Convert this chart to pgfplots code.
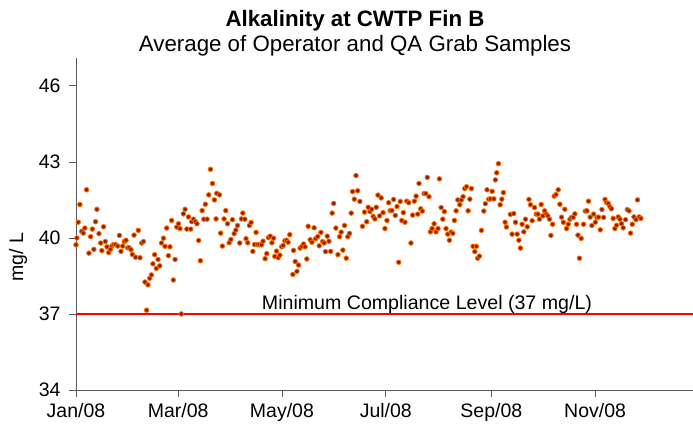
\documentclass[border=0pt]{standalone}
\usepackage{fontspec}
\setmainfont{Liberation Sans}
\usepackage{pgfplots}
\pgfplotsset{compat=1.18}

\definecolor{dotfill}{RGB}{150,30,0}
\definecolor{dotedge}{RGB}{255,110,0}
\definecolor{axisgray}{RGB}{90,90,90}
\definecolor{limitred}{RGB}{255,0,0}

% day of year (0 = 1 Jan 2008), alkalinity in mg/L
\pgfplotstableread{
day val
0 39.73
0.5 40.00
1.3 40.62
2.3 41.32
3.3 40.26
4.3 40.19
5.2 40.39
6.2 41.90
7.6 39.40
8.6 40.05
9.6 40.35
10.5 39.55
11.5 40.64
12.3 41.13
13.5 40.17
14.5 39.80
15.2 39.50
16.2 40.44
17.2 39.86
18.2 39.65
19.2 39.42
20.2 39.55
21.1 39.69
22.1 39.74
23.1 39.74
24.5 39.68
25.5 40.10
26.4 39.47
27.4 39.68
28.4 39.86
29.4 39.91
30.4 39.61
31.3 39.61
32.3 39.54
33.1 39.35
34.1 40.11
35.0 39.24
36.6 40.30
37.6 39.22
38.6 39.80
39.6 39.86
40.5 38.26
41.5 37.15
42.3 38.15
43.3 38.41
44.3 38.54
45.2 38.98
46.2 39.34
47.2 38.80
48.2 39.15
49.2 38.90
50.2 39.80
51.4 39.99
52.3 39.67
53.3 40.39
54.3 39.30
55.2 39.65
56.2 40.69
57.2 38.34
58.2 39.15
59.2 40.43
60.2 40.56
61.1 40.37
61.9 37.00
63.1 40.95
64.1 41.13
65.1 40.35
66.1 40.83
67.4 40.35
68.0 40.64
69.0 40.74
70.2 40.64
71.1 40.56
72.1 39.90
73.1 39.10
74.1 41.08
75.1 40.74
76.0 41.33
77.0 40.74
78.0 41.70
79.0 42.71
80.2 42.15
81.3 41.50
82.3 40.75
82.7 41.76
84.3 41.70
85.0 40.19
86.0 39.68
87.0 40.75
88.0 41.08
89.0 40.56
90.0 39.81
91.0 39.94
91.9 40.72
92.9 40.17
93.9 40.31
94.9 40.49
96.2 39.80
97.2 40.75
98.0 40.98
99.2 40.74
99.9 39.97
100.9 39.81
101.9 40.49
102.9 40.61
103.9 39.47
104.9 39.74
105.8 40.22
106.8 39.74
107.8 39.74
109.0 39.73
109.9 39.87
111.1 39.18
112.1 39.38
113.1 40.01
114.1 40.07
115.1 39.81
116.1 39.99
116.8 39.27
117.8 39.48
118.8 39.22
119.8 39.32
120.8 39.65
121.7 39.70
122.7 39.89
123.7 39.91
124.6 39.83
125.6 40.13
127.4 38.56
127.8 39.51
128.8 39.07
129.8 38.68
130.8 38.93
131.7 39.60
132.7 39.67
133.7 39.76
134.6 39.65
135.6 39.17
136.4 40.46
137.6 39.93
138.6 39.83
139.9 40.40
140.8 39.97
142.0 40.05
142.9 39.69
143.9 40.22
144.9 39.86
145.8 39.80
146.6 39.46
147.6 40.07
148.6 39.87
149.6 39.47
150.5 40.98
151.4 41.36
152.7 40.39
153.9 39.34
154.9 40.05
155.8 40.23
156.8 39.52
157.8 40.49
158.8 39.20
159.7 40.05
160.7 40.18
161.7 40.98
162.5 41.83
163.5 41.53
164.5 42.46
165.5 41.86
166.8 41.44
168.3 40.46
169.5 41.02
170.8 40.64
171.7 41.21
172.7 41.04
173.7 41.13
174.6 40.85
175.6 40.75
176.4 41.21
177.4 41.69
178.4 40.87
179.3 41.58
180.4 41.00
181.5 40.37
182.7 40.69
183.7 41.39
184.6 41.08
185.6 41.08
186.6 41.52
187.6 40.89
188.6 41.24
189.6 39.04
190.5 41.44
191.4 40.69
192.3 41.00
193.3 40.62
194.3 41.45
195.5 41.39
196.8 39.80
197.8 40.90
198.8 41.45
199.8 41.65
200.8 40.94
201.5 42.15
202.5 41.15
203.5 41.06
204.5 41.75
205.5 41.75
206.4 42.39
207.4 41.63
208.2 40.24
209.2 40.37
210.4 40.56
211.5 40.24
212.7 40.37
213.5 42.33
214.5 41.20
215.5 40.74
216.4 41.04
217.4 40.37
218.4 40.15
219.4 39.91
220.4 40.23
221.4 40.18
222.3 40.69
223.3 41.07
224.3 41.50
225.5 41.31
226.4 41.50
227.4 41.63
228.4 41.95
229.4 42.02
230.4 41.07
231.4 41.53
232.3 41.95
233.3 39.67
234.3 39.46
235.2 39.67
236.0 39.20
237.0 39.28
238.2 40.30
239.6 41.06
240.5 41.35
241.5 41.90
242.5 41.53
243.5 41.54
244.5 41.84
245.5 41.54
246.4 42.29
247.2 42.57
248.2 42.93
249.2 41.31
250.2 41.53
251.1 41.79
252.1 40.62
252.9 40.43
255.2 40.93
256.2 40.15
257.2 40.96
258.2 40.62
259.2 40.15
260.2 39.91
261.1 39.60
262.1 40.54
263.1 40.24
264.1 40.74
265.1 40.44
266.1 41.52
267.0 41.31
268.0 40.68
269.4 41.20
270.4 40.94
271.4 40.94
272.3 40.74
273.3 41.32
274.3 40.87
275.3 41.07
276.3 40.94
277.2 40.87
278.2 40.74
279.0 40.10
280.0 40.54
281.0 41.65
282.0 41.71
283.3 41.90
284.3 41.33
285.3 40.82
286.3 40.62
287.2 41.13
288.2 40.37
289.2 40.54
290.2 40.74
291.1 40.81
292.1 40.81
293.1 40.95
294.1 40.54
294.9 40.11
295.8 39.20
296.8 39.98
298.2 40.54
299.2 41.06
300.2 41.07
301.1 41.45
302.1 40.82
303.1 40.49
304.1 40.94
305.1 40.62
306.1 40.81
307.0 40.82
308.0 40.32
309.0 41.12
310.0 40.81
310.8 41.52
311.7 41.40
312.7 41.36
313.7 41.23
314.6 41.15
315.6 40.77
316.6 40.37
317.6 40.50
318.6 40.83
319.6 40.74
320.5 40.56
321.5 40.40
322.9 40.72
323.9 41.12
324.9 41.07
325.8 40.19
326.8 40.54
327.8 40.83
329.0 40.72
329.9 41.50
330.9 40.83
331.9 40.77
}\alkdata

\begin{document}
\begin{tikzpicture}
\begin{axis}[
    scale only axis,
    width=617pt, height=332pt,
    at={(0,0)}, anchor=south west,
    xmin=0, xmax=362.5,
    ymin=34, ymax=47.1,
    axis x line*=bottom,
    axis y line*=left,
    axis line style={draw=axisgray, line width=0.8pt},
    xtick={0,60,121,182,244,305},
    xticklabels={Jan/08,Mar/08,May/08,Jul/08,Sep/08,Nov/08},
    ytick={34,37,40,43,46},
    tick align=outside,
    major tick length=7pt,
    tick style={draw=axisgray, line width=0.8pt},
    ticklabel style={font=\fontsize{19.5}{22}\selectfont},
    xticklabel style={yshift=-3pt},
    yticklabel style={xshift=-5pt},
    /pgf/number format/assume math mode=true,
    ylabel={mg/ L},
    every axis y label/.style={at={(axis description cs:0,0.40)}, rotate=90, yshift=58pt, anchor=center, font=\fontsize{19.5}{22}\selectfont},
    clip=false,
]

% minimum compliance level
\addplot[draw=limitred, line width=1.2pt, mark=none] coordinates {(0,37) (362.5,37)};

\addplot[only marks, mark=*, mark size=2.3pt,
    mark options={fill=dotfill, draw=dotedge, line width=0.8pt}]
    table[x=day, y=val] {\alkdata};

\node[anchor=base, font=\fontsize{19.6}{22}\selectfont] at (axis cs:206.2,37.19) {Minimum Compliance Level (37 mg/L)};

\end{axis}

\node[anchor=base, font=\bfseries\fontsize{22.3}{25}\selectfont] at (279pt,363pt) {Alkalinity at CWTP Fin B};
\node[anchor=base, font=\fontsize{22.3}{25}\selectfont] at (279pt,338pt) {Average of Operator and QA Grab Samples};

\pgfresetboundingbox
\path (-76pt,-38pt) rectangle (617pt,390pt);
\end{tikzpicture}
\end{document}
